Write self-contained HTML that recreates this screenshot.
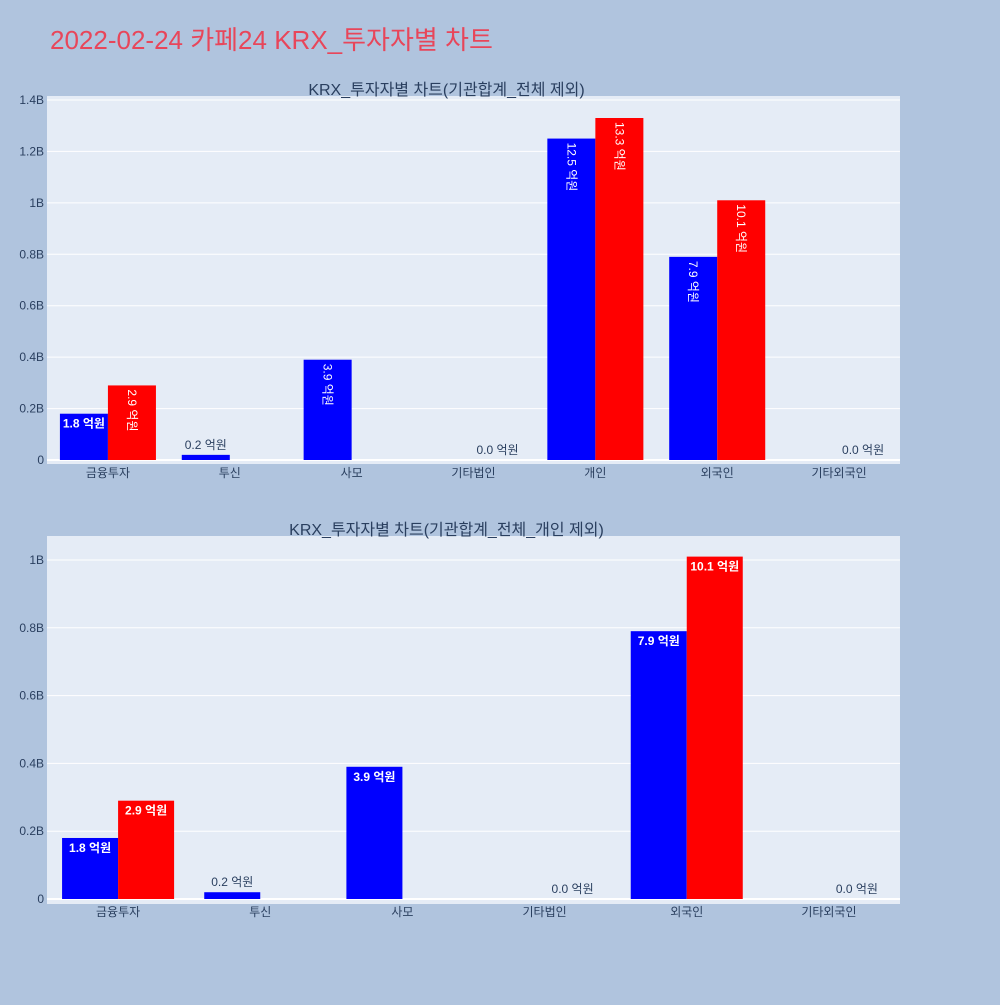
<!DOCTYPE html>
<html><head><meta charset="utf-8">
<style>
body{margin:0;background:#b0c4de;}
svg text{font-family:"Liberation Sans","Noto Sans CJK KR",sans-serif;}
</style></head>
<body>
<svg id="c" width="1000" height="1000" xmlns="http://www.w3.org/2000/svg">
<rect width="1000" height="1000" fill="#b0c4de"/>
<text x="50" y="49" font-size="26" fill="#e8465a">2022-02-24 카페24 KRX_투자자별 차트</text>
</svg>
<script>
const cats1 = ["금융투자","투신","사모","기타법인","개인","외국인","기타외국인"];
const buy1 = [0.18,0.02,0.39,0,1.25,0.79,0];
const sell1 = [0.29,0,0,0,1.33,1.01,0];
const ticks1 = [0,0.2,0.4,0.6,0.8,1,1.2,1.4];
const tickLabels1 = ["0","0.2B","0.4B","0.6B","0.8B","1B","1.2B","1.4B"];
const cats2 = ["금융투자","투신","사모","기타법인","외국인","기타외국인"];
const buy2 = [0.18,0.02,0.39,0,0.79,0];
const sell2 = [0.29,0,0,0,1.01,0];
const ticks2 = [0,0.2,0.4,0.6,0.8,1];
const tickLabels2 = ["0","0.2B","0.4B","0.6B","0.8B","1B"];

const svg = document.getElementById('c');
const NS = "http://www.w3.org/2000/svg";
function mk(tag, attrs, parent){const e=document.createElementNS(NS,tag);for(const k in attrs)e.setAttribute(k,attrs[k]);(parent||svg).appendChild(e);return e;}

function chart(o){
  const g = mk('g',{});
  
  
  const bg = mk('rect',{x:o.x0,y:o.top,width:o.x1-o.x0,height:o.bottom-o.top,fill:'#e5ecf6'},g);
  
  
  const yS = v => o.zeroY - v/o.maxV*(o.zeroY-o.maxY);
  const bw = (o.x1-o.x0)/o.cats.length;
  const xS = i => o.x0 + bw*(i+0.5);
  o.ticks.forEach((t,i)=>{
    const y=yS(t);
    const l=mk('line',{x1:o.x0,x2:o.x1,y1:y,y2:y,stroke:'#fff','stroke-width':t===0?2:1},g);
    
    
    const tx=mk('text',{x:o.x0-3,y:y+4,'font-size':12,fill:'#2a3f5f','text-anchor':'end'},g);
    tx.textContent=o.tickLabels[i];
    
    
  });
  const barW = bw*o.barFrac;
  o.cats.forEach((c,i)=>{
    const cx=xS(i);
    const tx=mk('text',{x:cx,y:o.zeroY+17,'font-size':12,fill:'#2a3f5f','text-anchor':'middle'},g);
    tx.textContent=c;
    
    
    [[o.buy[i],'#0000ff',cx-barW],[o.sell[i],'#ff0000',cx]].forEach(([v,col,bx])=>{
      const y=yS(v), h=o.zeroY-y;
      const r=mk('rect',{x:bx,y:y,width:barW,height:Math.max(h,0),fill:col},g);
      
      
      if(v===0 && col==='#0000ff') return;
      if(v===0 && col==='#ff0000' && o.buy[i]!==0) return;
      const lab=(v*10).toFixed(1)+' 억원';
      const lx=bx+barW/2;
      let t;
      if(h<20){
        t=mk('text',{x:lx,y:y-6,'font-size':12,fill:'#2a3f5f','text-anchor':'middle'},g);
      } else if(barW>=52 || h<60){
        t=mk('text',{x:lx,y:y+14,'font-size':12,fill:'#fff','font-weight':'bold','text-anchor':'middle'},g);
      } else {
        t=mk('text',{x:lx-4,y:y+4,'font-size':12,fill:'#fff','text-anchor':'start',transform:`rotate(90 ${lx-4} ${y+4})`},g);
      }
      t.textContent=lab;
      
      
    });
  });
  const st=mk('text',{x:(o.x0+o.x1)/2-27,y:o.top-1,'font-size':16,fill:'#2a3f5f','text-anchor':'middle'},g);
  st.textContent=o.title;
  
  
}
chart({name:'chart-top',cats:cats1,buy:buy1,sell:sell1,ticks:ticks1,tickLabels:tickLabels1,x0:47,x1:900,top:96,bottom:464,zeroY:460,maxY:100,maxV:1.4,barFrac:0.394,title:'KRX_투자자별 차트(기관합계_전체 제외)'});
chart({name:'chart-bottom',cats:cats2,buy:buy2,sell:sell2,ticks:ticks2,tickLabels:tickLabels2,x0:47,x1:900,top:536,bottom:904,zeroY:899,maxY:560,maxV:1,barFrac:0.394,title:'KRX_투자자별 차트(기관합계_전체_개인 제외)'});
</script>
</body></html>
